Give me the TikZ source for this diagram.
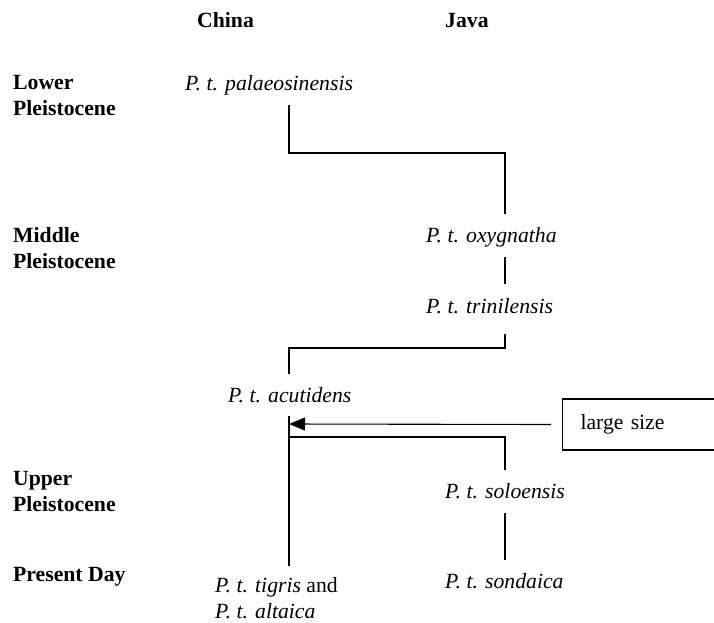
\documentclass[tikz,border=0pt]{standalone}
\usepackage{fontspec}
\setmainfont{Liberation Serif}
\usetikzlibrary{arrows.meta}
\begin{document}
\fontsize{21.7}{26}\selectfont
\begin{tikzpicture}[x=1pt, y=-1pt,
  period/.style={anchor=base west, inner sep=0pt, font=\bfseries},
  head/.style={anchor=base west, inner sep=0pt, font=\bfseries},
  taxon/.style={anchor=base west, inner sep=0pt, font=\itshape},
  link/.style={line width=1.1pt, line cap=rect},
  note/.style={draw, line width=1.1pt, anchor=west, minimum height=51pt,
    inner xsep=18pt, text width=132pt, align=left}
]
  % page
  \fill[white] (0,0) rectangle (714,622);
  \useasboundingbox (0,0) rectangle (714,622);

  % column headings
  \node[head] (china) at (197,27) {China};
  \node[head] (java)  at (445,27) {Java};

  % time periods
  \node[period] (lower)   at (13,89)
    {\begin{tabular}[t]{@{}l@{}}Lower\\Pleistocene\end{tabular}};
  \node[period] (middle)  at (13,242)
    {\begin{tabular}[t]{@{}l@{}}Middle\\Pleistocene\end{tabular}};
  \node[period] (upper)   at (13,485)
    {\begin{tabular}[t]{@{}l@{}}Upper\\Pleistocene\end{tabular}};
  \node[period] (present) at (13,581) {Present Day};

  % subspecies
  \node[taxon] (pal)  at (185,90)  {P. t. palaeosinensis};
  \node[taxon] (oxy)  at (426,242) {P. t. oxygnatha};
  \node[taxon] (tri)  at (426,313) {P. t. trinilensis};
  \node[taxon] (acu)  at (228,402) {P. t. acutidens};
  \node[taxon] (sol)  at (445,498) {P. t. soloensis};
  \node[taxon] (son)  at (445,588) {P. t. sondaica};
  \node[anchor=base west, inner sep=0pt] (tig) at (215,592)
    {\begin{tabular}[t]{@{}l@{}}\textit{P. t. tigris} and\\\textit{P. t. altaica}\end{tabular}};

  % side note
  \node[note] (big) at (562,424.5) {large size};

  % connector end points
  \coordinate (palB) at (289,106);
  \coordinate (k1)   at (505,153);
  \coordinate (oxyT) at (505,213);
  \coordinate (oxyB) at (505,258);
  \coordinate (triT) at (505,283);
  \coordinate (triB) at (505,335);
  \coordinate (k2)   at (289,348);
  \coordinate (acuT) at (289,373);
  \coordinate (acuB) at (289,417);
  \coordinate (tigT) at (289,565);
  \coordinate (tip)  at (289,424);
  \coordinate (tail) at ([xshift=-11pt]big.west);
  \coordinate (fork) at (289,437);
  \coordinate (solT) at (505,469);
  \coordinate (solB) at (505,514);
  \coordinate (sonT) at (505,559);

  % lineage lines
  \draw[link] (palB) |- (k1) -- (oxyT);
  \draw[link] (oxyB) -- (triT);
  \draw[link] (triB) |- (k2) -- (acuT);
  \draw[link] (acuB) -- (tigT);
  \draw[link] (fork) -| (solT);
  \draw[link] (solB) -- (sonT);

  % arrow from the note
  \draw[line width=1.1pt, -{Triangle[length=16pt, width=13pt]}] (tail) -- (tip);
\end{tikzpicture}
\end{document}
